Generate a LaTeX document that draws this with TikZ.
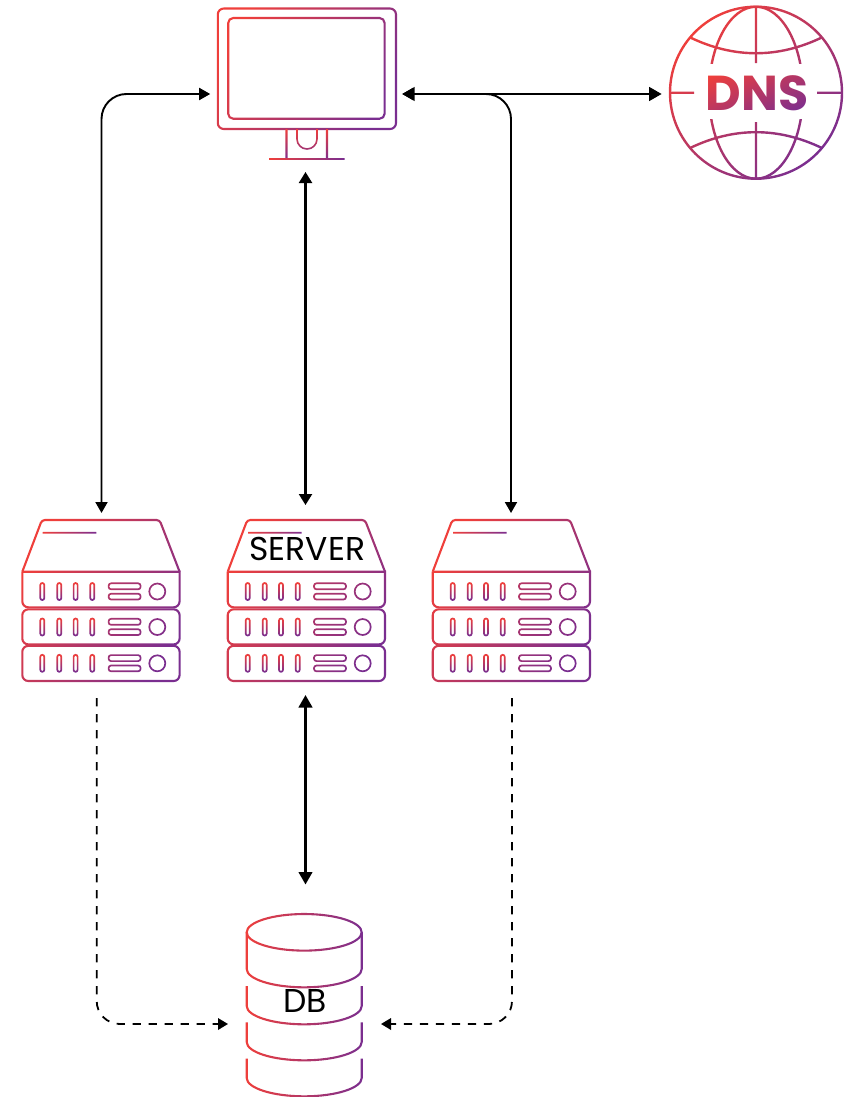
\documentclass[tikz,border=0pt]{standalone}
\usepackage{fontspec}
\setmainfont{Poppins}
\usetikzlibrary{arrows.meta,calc,fadings}
\definecolor{gr}{HTML}{EF3F3B}
\definecolor{gp}{HTML}{7A2E90}
\pgfdeclareverticalshading{srvbands}{100bp}{color(0bp)=(gp); color(26.2bp)=(gp); color(35.3bp)=(gr); color(40bp)=(gp); color(45.7bp)=(gp); color(54.8bp)=(gr); color(60bp)=(gp); color(64.8bp)=(gp); color(73.9bp)=(gr); color(100bp)=(gr)}
\newcommand\defgrad[3]{%
  \begin{tikzfadingfrompicture}[name=#1,x=1pt,y=-1pt]
    \path[use as bounding box] (0,0) rectangle (851,1097);
    \begin{scope}[draw=transparent!0,text=transparent!0,line width=#2pt] #3 \end{scope}
  \end{tikzfadingfrompicture}}
\defgrad{fscreen}{2.1}{
  \draw[rounded corners=6] (217.8,8.5) rectangle (396,129);
  \draw[rounded corners=5] (228.2,18) rectangle (384.6,118.7);}
\defgrad{fstand}{2.2}{
  \draw (286.5,129) -- (286.5,159); \draw (327,129) -- (327,159);
  \draw[line width=1.6pt] (297,129) -- (297,139) .. controls (297,144.5) and (301.5,149) .. (307,149)
     .. controls (312.5,149) and (317,144.5) .. (317,139) -- (317,129);}
\defgrad{fbase}{1.8}{\draw (269,159) -- (344.5,159);}
\defgrad{fglobe}{2.4}{
  \draw (756,92.7) circle[radius=86];
  \draw (756,7) -- (756,63); \draw (756,122) -- (756,178);
  \draw (670,92.7) -- (694,92.7); \draw (817,92.7) -- (842,92.7);
  \draw (690.7,37.7) .. controls (734.2,58.4) and (777.8,58.4) .. (821.3,37.7);
  \draw (690.7,147.7) .. controls (734.2,127) and (777.8,127) .. (821.3,147.7);
  \begin{scope}
    \clip (700,0) rectangle (812,63);
    \draw (756,92.7) ellipse[x radius=47,y radius=86];
  \end{scope}
  \begin{scope}
    \clip (700,119) rectangle (812,185);
    \draw (756,92.7) ellipse[x radius=47,y radius=86];
  \end{scope}}
\defgrad{fdns}{1}{
  \node[inner sep=0pt,font=\fontsize{49}{54}\selectfont\bfseries] (dnstext) at (757,93) {DNS};}
\defgrad{fline}{1.8}{\draw (248,532.7) -- (301.7,532.7);}
\defgrad{fbody}{2.1}{
  \draw (227.7,571.7) [rounded corners=3] -- (247.3,520) -- (365,520) -- (385,571.7);
  \draw (227.7,571.7) -- (385,571.7) [rounded corners=6] -- (385,607.3) -- (227.7,607.3) [sharp corners] -- (227.7,571.7);
  \draw[rounded corners=6] (227.7,609.3) rectangle (385,644.4);
  \draw[rounded corners=6] (227.7,645.8) rectangle (385,681);
  \foreach \yy in {591.5,627,663.3} {
    \draw[line width=1.7pt,rounded corners=2.5] (314,\yy-8.2) rectangle (346,\yy-2.2);
    \draw[line width=1.7pt,rounded corners=2.5] (314,\yy+2.2) rectangle (346,\yy+8);
    \draw[line width=1.7pt] (362.7,\yy) circle[radius=8];
  }}
\defgrad{fpills}{1.7}{
  \foreach \yy in {591.5,627,663.3} {
    \foreach \xx in {247.7,264.7,281,297.7}
      \draw[rounded corners=2] (\xx-2,\yy-8.5) rectangle (\xx+2,\yy+8.5);
  }}
\defgrad{fdb}{2.1}{
  \draw (304.2,932.3) ellipse[x radius=57.5,y radius=18.3];
  \foreach \ya/\yb in {932.3/969,986/1006,1022.3/1042,1058.7/1078}
    \draw (246.7,\ya) -- (246.7,\yb) .. controls (246.7,\yb+10) and (272.5,\yb+18.3) .. (304.2,\yb+18.3)
      .. controls (336,\yb+18.3) and (361.7,\yb+10) .. (361.7,\yb) -- (361.7,\ya);}
\newcommand\gradrect[7]{%
  \shade[#7,path fading=#1,fit fading=false,fading transform={shift={(425.5+#2,548.5)}}]
    (#3+#2,#4) rectangle (#5+#2,#6);}
\tikzset{
  diag/.style={left color=gr,right color=gp,shading angle=60},
  globeshade/.style={left color=gr,right color=gp,shading angle=45},
  steep/.style={left color=gr,right color=gp,shading angle=25},
  horiz/.style={left color=gr,right color=gp},
  vert/.style={top color=gr,bottom color=gp},
  link/.style={draw=black,line width=1.9pt,{Triangle[length=11pt,width=12pt]}-{Triangle[length=11pt,width=12pt]}},
  biglink/.style={draw=black,line width=2.6pt,{Triangle[length=12.5pt,width=13.5pt]}-{Triangle[length=12.5pt,width=13.5pt]}},
  datalink/.style={draw=black,line width=1.8pt,dash pattern=on 8.3pt off 7.7pt,-{Triangle[length=10pt,width=11.5pt]}},
  zone/.style={inner sep=0pt,outer sep=0pt},
  label/.style={inner sep=0pt,text=black,font=\fontsize{33}{39}\selectfont}
}
\begin{document}
\begin{tikzpicture}[x=1pt,y=-1pt]
\useasboundingbox (0,0) rectangle (851,1097);
% icons
\gradrect{fscreen}{0}{215}{6}{398}{131}{diag}
\gradrect{fstand}{0}{284}{129}{330}{160}{vert}
\gradrect{fbase}{0}{269}{157}{344.5}{161}{horiz}
\gradrect{fglobe}{0}{668}{5}{844}{180}{globeshade}
\gradrect{fdns}{0}{704}{66}{810}{120}{steep}
\foreach \dx in {-205.4,0,205} {
  \gradrect{fbody}{\dx}{226}{518}{387}{682.5}{diag}
  \gradrect{fline}{\dx}{248}{531}{302}{534.5}{horiz}
  \gradrect{fpills}{\dx}{240}{581}{305}{674}{shading=srvbands}
}
\gradrect{fdb}{0}{245}{912}{363.5}{1097}{horiz}
% labels
\node[label] (servertext) at (307.4,549) {SERVER};
\node[label] (dbtext) at (305,1001) {DB};
% connector zones
\node[zone,minimum width=192pt,minimum height=156pt] (client) at (306.2,94) {};
\node[zone,minimum width=188pt,minimum height=172pt] (dns) at (755.7,94) {};
\node[zone,minimum width=166pt,minimum height=190pt] (srvA) at (101.5,608) {};
\node[zone,minimum width=166pt,minimum height=190pt] (srvB) at (305.5,600) {};
\node[zone,minimum width=166pt,minimum height=190pt] (srvC) at (511,608) {};
\node[zone,minimum width=153pt,minimum height=213pt] (db) at (304.5,991) {};
\coordinate (outA) at (96.7,698);
\coordinate (outC) at (512,698);
% connectors
\draw[link,rounded corners=25pt] (srvA.north) |- (client.west);
\draw[link,rounded corners=25pt] (client.east) -| (srvC.north);
\draw[biglink] (client.east) -- (dns.west);
\draw[link,line width=2.2pt,{Triangle[length=11pt,width=13pt]}-{Triangle[length=11pt,width=13pt]}] (client.south -| srvB.north) -- (srvB.north);
\draw[biglink] (srvB.south) -- (db.north -| srvB.south);
\draw[datalink,rounded corners=23pt] (outA) |- ($(db.west)+(0,33)$);
\draw[datalink,rounded corners=23pt] (outC) |- ($(db.east)+(0,33)$);
\end{tikzpicture}
\end{document}
